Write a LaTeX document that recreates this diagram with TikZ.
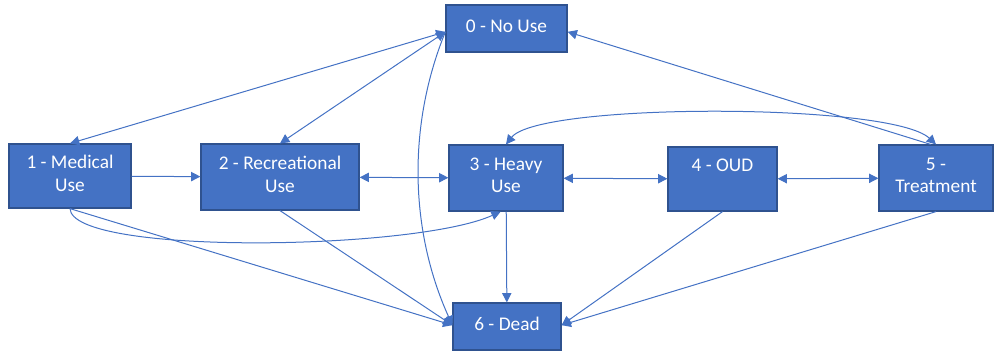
\documentclass[tikz,border=0pt]{standalone}
\usepackage{fontspec}
\setmainfont{Carlito}
\usepackage{tikz}
\usetikzlibrary{arrows.meta}
\definecolor{boxblue}{HTML}{4472C4}
\definecolor{boxline}{HTML}{2F528F}
\newcommand{\px}{0.75pt}

\begin{document}
\begin{tikzpicture}[x=0.75pt, y=-0.75pt]
\tikzset{StateStyle/.style = {shape=rectangle, draw=boxline, line width=0.9pt, fill=boxblue, text=white, align=center, inner sep=0pt, text depth=4pt, font=\fontsize{14.5}{17}\selectfont}}
\tikzset{EdgeStyle/.style = {draw=boxblue, line width=0.75pt, -{Triangle[length=7pt, width=7pt]}}}
\tikzset{BothStyle/.style = {EdgeStyle, {Triangle[length=7pt, width=7pt]}-{Triangle[length=7pt, width=7pt]}}}
	\useasboundingbox (0,0) rectangle (995,354);
	\node[StateStyle, minimum width=121*\px, minimum height=47*\px] (nouse) at (506.5,28.5) {0 - No Use};
	\node[StateStyle, minimum width=122*\px, minimum height=64*\px] (med) at (70,176) {1 - Medical\\Use};
	\node[StateStyle, minimum width=158*\px, minimum height=66*\px] (rec) at (280,177) {2 - Recreational\\Use};
	\node[StateStyle, minimum width=114*\px, minimum height=66*\px] (heavy) at (506,178) {3 - Heavy\\Use};
	\node[StateStyle, minimum width=109*\px, minimum height=64*\px] (oud) at (722.5,179) {4 - OUD\\~};
	\node[StateStyle, minimum width=114*\px, minimum height=66*\px] (treat) at (936,178) {5 -\\Treatment};
	\node[StateStyle, minimum width=108*\px, minimum height=47*\px] (dead) at (507,326.5) {6 - Dead};

	\draw[BothStyle] ([yshift=-2.5pt]nouse.west) -- (med.north);
	\draw[BothStyle] ([yshift=-2.5pt]nouse.west) -- (rec.north);
	\draw[EdgeStyle] ([yshift=-2.5pt]nouse.west) .. controls +(-38,93) and +(-43,-95) .. ([yshift=1pt]dead.west);
	\draw[EdgeStyle] ([xshift=-4pt]treat.north) -- ([yshift=-2.5pt]nouse.east);

	\draw[EdgeStyle] (med) -- (rec);
	\draw[BothStyle] (rec) -- (heavy);
	\draw[BothStyle] (heavy) -- (oud);
	\draw[BothStyle] (oud) -- (treat);
	\draw[BothStyle] (heavy.north) .. controls +(33,-42) and +(-45,-42) .. (treat.north);
	\draw[EdgeStyle] (med.south) .. controls +(2,47) and +(-86,39) .. ([xshift=-4pt]heavy.south);

	\draw[EdgeStyle] (heavy) -- (dead);
	\draw[EdgeStyle] (med.south) -- ([yshift=1pt]dead.west);
	\draw[EdgeStyle] (rec.south) -- ([yshift=1pt]dead.west);
	\draw[EdgeStyle] (oud.south) -- ([yshift=1pt]dead.east);
	\draw[EdgeStyle] (treat.south) -- ([yshift=1pt]dead.east);
\end{tikzpicture}
\end{document}
